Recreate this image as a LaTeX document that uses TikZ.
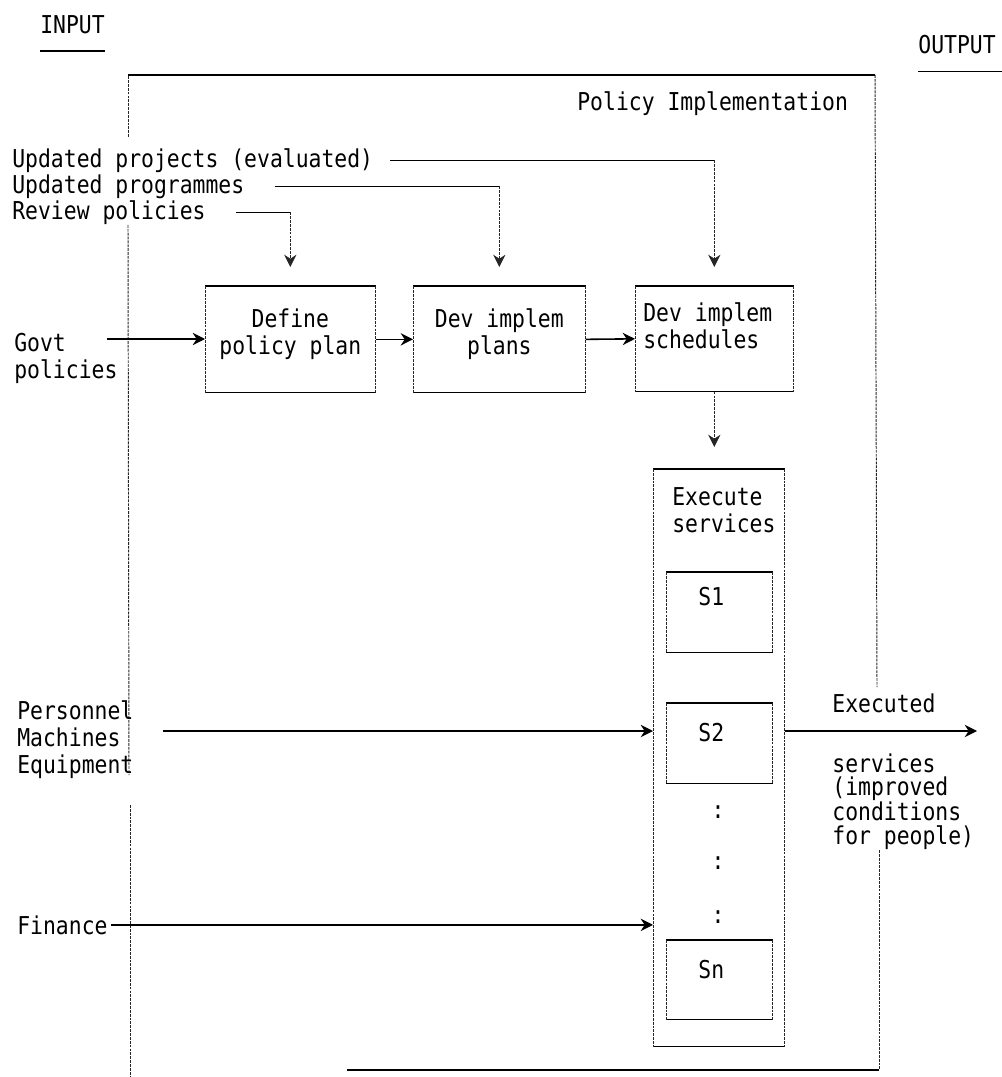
\documentclass[tikz,border=0pt]{standalone}
\usepackage{fontspec}
\setmonofont{DejaVu Sans Mono}[FakeStretch=0.87]
\usepackage{tikz}
\usetikzlibrary{positioning,arrows.meta,calc}
\newcommand{\boxedges}[1]{%
  \draw[hl] (#1.north west) -- (#1.north east) (#1.south west) -- (#1.south east);
  \draw[vl] (#1.north west) -- (#1.south west) (#1.north east) -- (#1.south east);}

\begin{document}
\begin{tikzpicture}[x=0.02cm, y=-0.02cm,
  hl/.style={line width=0.9pt, black},
  vl/.style={line width=0.55pt, black!85, dash pattern=on 1.6pt off 0.6pt},
  arr/.style={-{Stealth[length=7pt,width=7pt]}},
  txt/.style={font=\ttfamily\fontsize{14}{15.5}\selectfont, inner sep=0pt, align=left},
  pbox/.style={draw=none, inner sep=0pt, anchor=north west}]
\useasboundingbox (0,0) rectangle (1001,1077);

% ================= headings =================
\node[txt, anchor=north west] (input) at (40,15) {INPUT};
\node[txt, anchor=north west] (output) at (918,35) {OUTPUT};
\draw[hl] ([yshift=-0.34cm]input.south west) -- ([yshift=-0.34cm]input.south east);
\draw[hl] ([yshift=-0.34cm]output.south west) -- ([yshift=-0.34cm,xshift=0.12cm]output.south east);

% ================= frame =================
\draw[vl] (128,137) -- (128,75);
\draw[hl] (128,75) -- (875,75);
\draw[vl] (875,75) -- (877,687);
\draw[vl] (128,225) -- (129,775);
\draw[vl] (130,805) -- (130,1077);
\draw[vl] (879,850) -- (879,1070);
\draw[hl] (879,1070) -- (347,1070);
\node[txt, anchor=north west] (title) at (577,91) {Policy Implementation};

% ================= boxes =================
\node[pbox, minimum width=3.4cm, minimum height=2.12cm] (define) at (205,286) {};
\node[pbox, minimum width=3.44cm, minimum height=2.12cm] (plans) at (413,286) {};
\node[pbox, minimum width=3.16cm, minimum height=2.1cm] (sched) at (635,286) {};
\node[pbox, minimum width=2.62cm, minimum height=11.54cm] (exec) at (653,469) {};
\node[pbox, minimum width=2.12cm, minimum height=1.6cm] (s1) at (666,572) {};
\node[pbox, minimum width=2.12cm, minimum height=1.6cm] (s2) at (666,703) {};
\node[pbox, minimum width=2.12cm, minimum height=1.58cm] (sn) at (666,940) {};
\foreach \b in {define, plans, sched, exec, s1, s2, sn} {
  \boxedges{\b}
}

\node[txt, align=center, below=0.44cm of define.north] (definetxt) {Define\\policy plan};
\node[txt, align=center, below=0.44cm of plans.north] (planstxt) {Dev implem\\plans};
\node[txt, below right=0.32cm and 0.16cm of sched.north west] (schedtxt) {Dev implem\\schedules};
\node[txt, below right=0.36cm and 0.38cm of exec.north west] (exectxt) {Execute\\services};
\node[txt, below=0.3cm of s1.north, xshift=-0.16cm] (s1txt) {S1};
\node[txt, below=0.4cm of s2.north, xshift=-0.16cm] (s2txt) {S2};
\node[txt, below=0.4cm of sn.north, xshift=-0.16cm] (sntxt) {Sn};
\foreach \cy [count=\i] in {812, 863, 917} {
  \node[txt] (dots\i) at (718,\cy) {:};
}

% ================= inputs =================
\node[txt, anchor=north west] (upd1) at (12,148) {Updated projects (evaluated)};
\node[txt, anchor=north west] (upd2) at (12,174) {Updated programmes};
\node[txt, anchor=north west] (review) at (12,200) {Review policies};
\node[txt, anchor=north west] (govt) at (14,333) {Govt\\policies};
\node[txt, anchor=north west] (pers) at (17,700) {Personnel\\Machines\\Equipment};
\node[txt, anchor=north west] (finance) at (17,915) {Finance};

\draw[hl] ([xshift=0.34cm]upd1.east) -- (upd1.east -| sched.north);
\draw[vl, arr] (upd1.east -| sched.north) -- ([yshift=0.38cm]sched.north);
\draw[hl] ([xshift=0.6cm]upd2.east) -- (upd2.east -| plans.north);
\draw[vl, arr] (upd2.east -| plans.north) -- ([yshift=0.38cm]plans.north);
\draw[hl] ([xshift=0.6cm]review.east) -- (review.east -| define.north);
\draw[vl, arr] (review.east -| define.north) -- ([yshift=0.38cm]define.north);

\coordinate (govtout) at (107,339);
\draw[hl, arr] (govtout) -- (govtout -| define.west);
\draw[hl, arr] (define.east) -- (plans.west);
\draw[hl, arr] (plans.east) -- (sched.west);

\coordinate (exectop) at ([yshift=0.44cm]exec.north);
\draw[vl, arr] (sched.south) -- (sched.south |- exectop);

\coordinate (persout) at (163,731);
\draw[hl, arr] (persout) -- (persout -| exec.west);
\draw[hl, arr] ([xshift=0.06cm]finance.east) -- (finance.east -| exec.west);

% ================= output =================
\coordinate (outend) at (977,731);
\draw[hl, arr] (persout -| exec.east) -- (outend);
\node[txt, anchor=north west] (executed) at (832,693) {Executed};
\node[txt, anchor=north west, font=\ttfamily\fontsize{14}{13.3}\selectfont] (outtxt) at (832,753)
  {services\\(improved\\conditions\\for people)};
\end{tikzpicture}
\end{document}
